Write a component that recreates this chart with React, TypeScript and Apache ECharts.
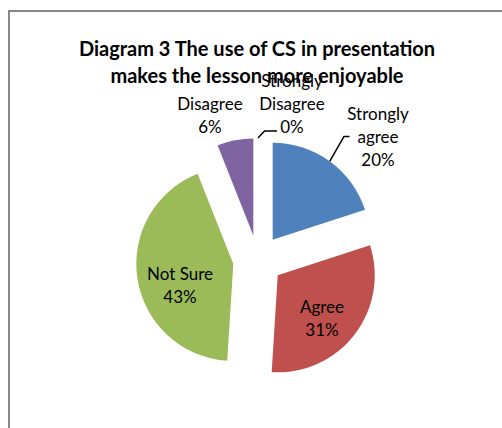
import React, { useEffect, useRef } from "react";
import * as echarts from "echarts";

const categories = ["Strongly agree", "Agree", "Not Sure", "Disagree", "Strongly Disagree"];
const labelNames = ["Strongly\nagree", "Agree", "Not Sure", "Disagree", "Strongly\nDisagree"];
const values = [20, 31, 43, 6, 0];
const colors = ["#4F81BD", "#C0504D", "#9BBB59", "#8064A2", "#4BACC6"];
const titleLines = ["Diagram 3 The use of CS in presentation", "makes the lesson more enjoyable"];

// layout constants
const CENTER = [258, 260];
const RADIUS = 97;
const EXPLODE = 25;
const labelPos: { x: number; y: number; line?: number[][] }[] = [
  { x: 378, y: 136.5, line: [[344, 136.5], [349.5, 136.5]] },
  { x: 322, y: 317.5 },
  { x: 180, y: 284.5 },
  { x: 210, y: 115 },
  { x: 292, y: 103.5, line: [[264.5, 131], [277, 131]] },
];

export default function App() {
  const ref = useRef<HTMLDivElement>(null);
  useEffect(() => {
    if (!ref.current) return;
    const chart = echarts.init(ref.current, null, { renderer: "svg" });
    const font = "Lato, 'Open Sans', sans-serif";
    const total = values.reduce((a, b) => a + b, 0);
    let cum = 0;
    const series = values.map((v, i) => {
      const startDeg = (cum / total) * 360;
      cum += v;
      const endDeg = (cum / total) * 360;
      const mid = ((startDeg + endDeg) / 2) * (Math.PI / 180);
      const cx = CENTER[0] + EXPLODE * Math.sin(mid);
      const cy = CENTER[1] - EXPLODE * Math.cos(mid);
      return {
        type: "pie",
        name: categories[i],
        center: [cx, cy],
        radius: RADIUS,
        startAngle: 90,
        clockwise: true,
        silent: true,
        emphasis: { disabled: true },
        label: {
          show: true,
          position: "outside",
          fontFamily: font,
          fontSize: 17,
          lineHeight: 23,
          color: "#000000",
          formatter: (p: any) => labelNames[p.dataIndex] + "\n" + Math.round(p.percent) + "%",
        },
        labelLine: { show: true, lineStyle: { color: "#000000", width: 1.5 } },
        labelLayout: (p: any) => {
          const lp = labelPos[p.dataIndex];
          const out: any = { x: lp.x, y: lp.y, align: "center", verticalAlign: "middle" };
          if (lp.line && p.labelLinePoints && p.labelLinePoints[0]) {
            out.labelLinePoints = [p.labelLinePoints[0], ...lp.line];
          }
          return out;
        },
        data: categories.map((c, j) => ({
          name: c,
          value: values[j],
          itemStyle:
            j === i
              ? { color: colors[j] }
              : { color: "rgba(0,0,0,0)", borderWidth: 0 },
          label:
            j === i
              ? { show: true, position: j === 1 || j === 2 ? "inside" : "outside" }
              : { show: false },
          labelLine: { show: j === i && (j === 0 || j === 4) },
        })),
      };
    });
    chart.setOption({
      animation: false,
      backgroundColor: "#ffffff",
      title: {
        text: titleLines.join("\n"),
        left: 257,
        top: 34,
        padding: 0,
        textAlign: "center",
        textStyle: {
          fontFamily: font,
          fontWeight: "bold",
          fontSize: 20,
          lineHeight: 27,
          color: "#000000",
        },
      },
      graphic: [
        {
          type: "rect",
          shape: { x: 9, y: 11, width: 620, height: 600 },
          style: { fill: "none", stroke: "#898989", lineWidth: 2 },
          silent: true,
        },
      ],
      series,
    });
    return () => chart.dispose();
  }, []);
  return (
    <div
      ref={ref}
      style={{ position: "absolute", left: 0, top: 0, width: 502, height: 428 }}
    />
  );
}
